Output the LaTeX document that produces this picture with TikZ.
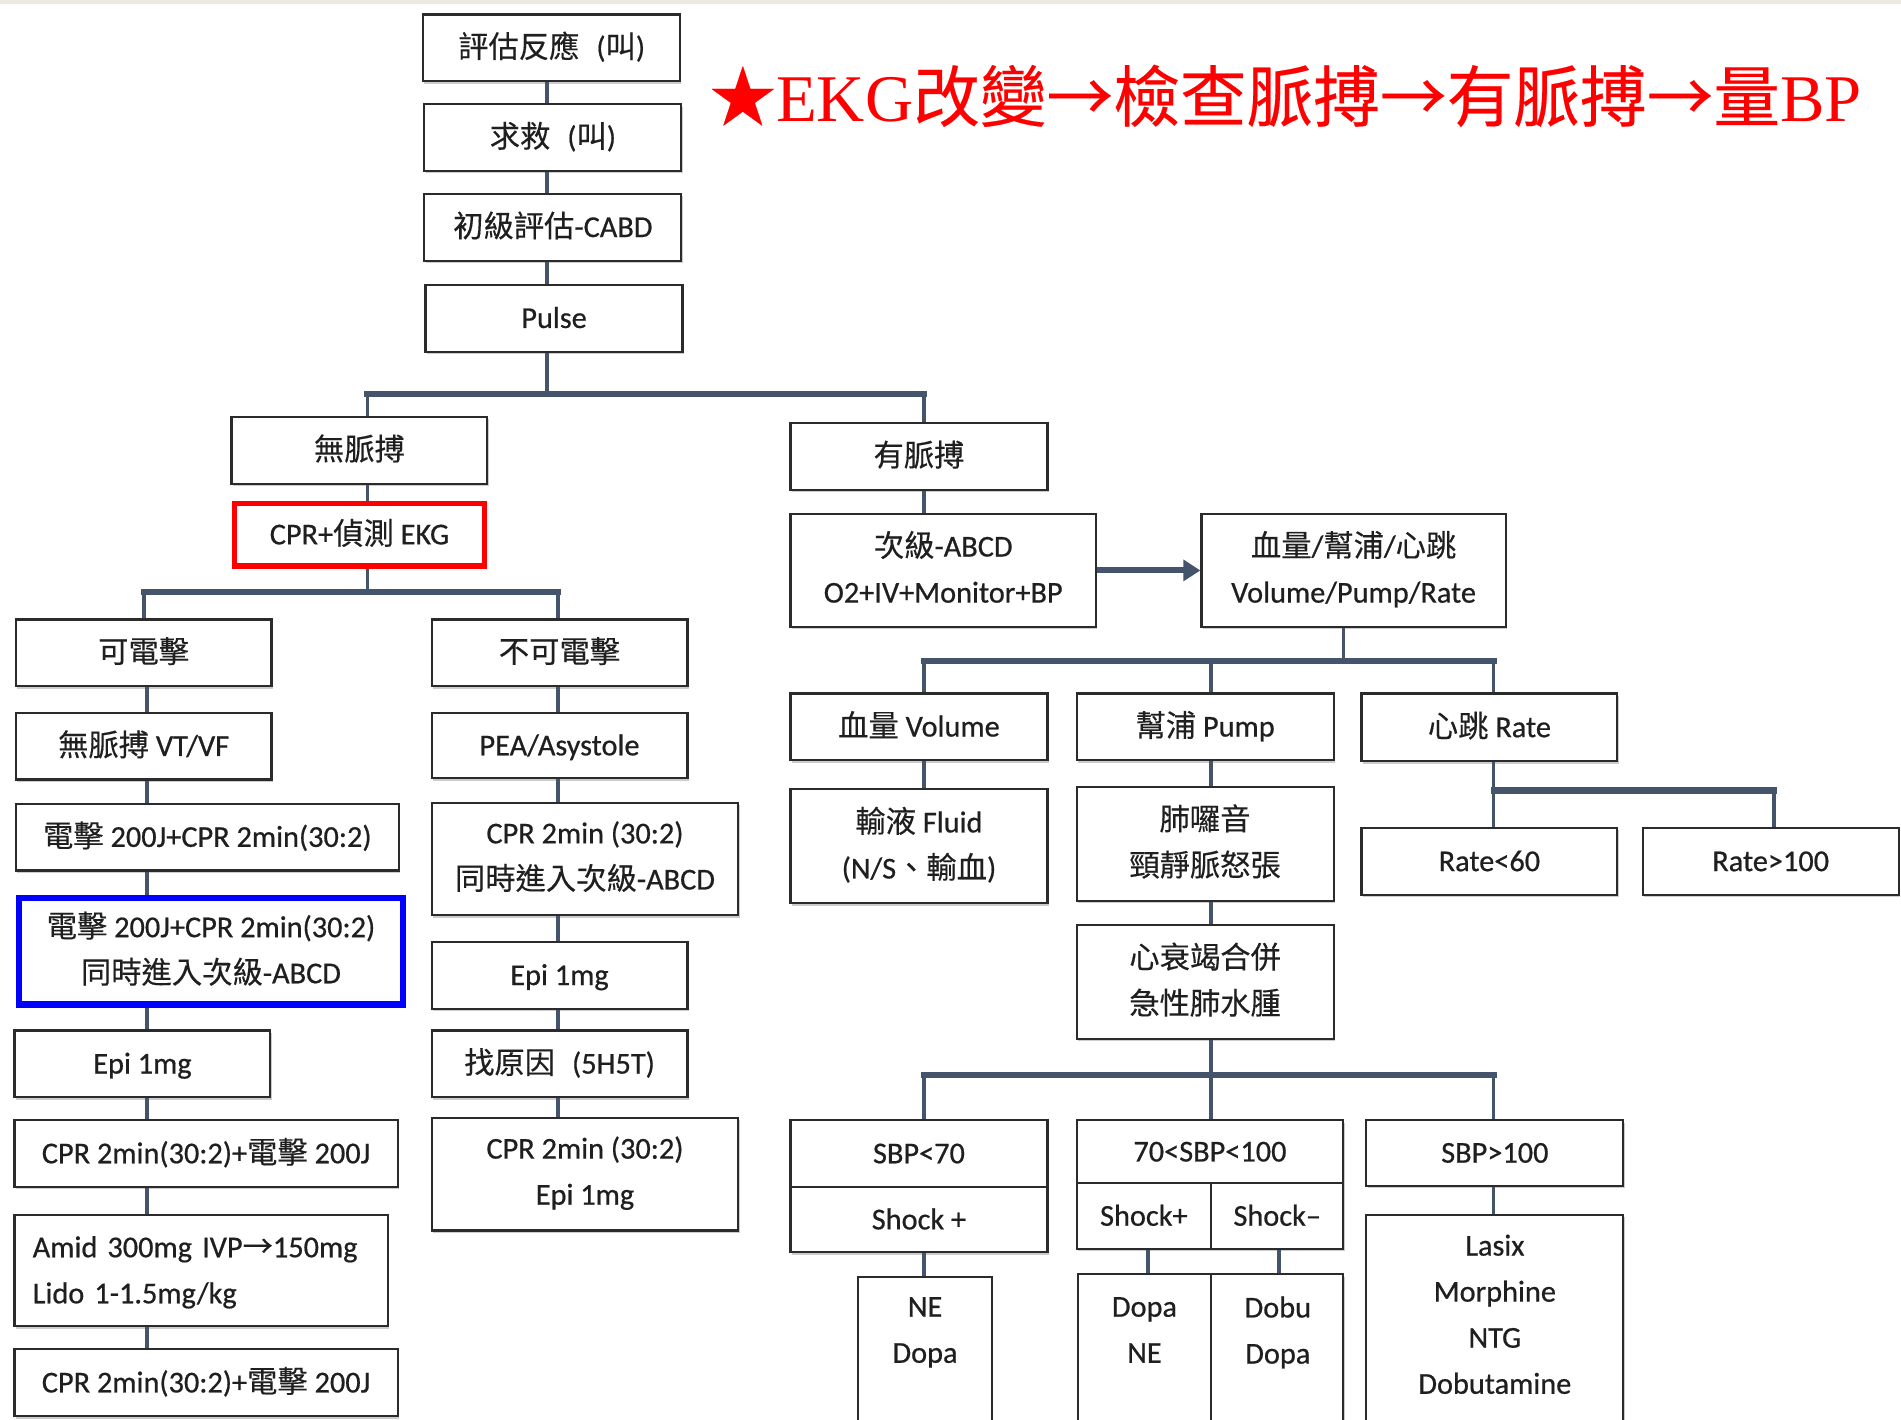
\documentclass[tikz,border=0pt]{standalone}
\usepackage{fontspec}
\usetikzlibrary{arrows.meta,shadows}
\newfontfamily\latinsans[FakeBold=0.6]{Carlito}
\newfontfamily\cjksans[FakeBold=0.3]{Noto Sans CJK TC}
\newfontfamily\latinserif{Liberation Serif}
\def\cjkfnt{\cjksans}
\def\latfnt{\latinsans}
\XeTeXinterchartokenstate=1
\newXeTeXintercharclass\cjkcls
\newcount\mycnt
\mycnt="4E00
\loop
  \XeTeXcharclass\mycnt=\cjkcls
  \advance\mycnt by 1
\ifnum\mycnt<"A000 \repeat
\mycnt="3000
\loop
  \XeTeXcharclass\mycnt=\cjkcls
  \advance\mycnt by 1
\ifnum\mycnt<"3040 \repeat
\XeTeXcharclass"2605=\cjkcls
\XeTeXcharclass"2192=\cjkcls
\XeTeXinterchartoks 0 \cjkcls={\cjkfnt}
\XeTeXinterchartoks 4095 \cjkcls={\cjkfnt}
\XeTeXinterchartoks \cjkcls 0={\latfnt}
\XeTeXinterchartoks \cjkcls 4095={\latfnt}
\newcommand\bodyfont{\def\latfnt{\latinsans}\latinsans\fontsize{25}{38}\selectfont}
\newcommand\titlefont{\def\latfnt{\latinserif}\latinserif\fontsize{55}{60}\selectfont}
\newcommand\st{\rule[-6pt]{0pt}{28pt}}
\newcommand\gp{\hspace{14pt}}
\definecolor{connc}{HTML}{44546A}
\definecolor{boxc}{HTML}{2B2B2B}
\definecolor{txtc}{HTML}{1F1F1F}
\definecolor{topband}{HTML}{ECE9E0}
\definecolor{kred}{HTML}{FF0000}
\definecolor{kblue}{HTML}{0000FF}
\tikzset{
  wh/.style 2 args={minimum width=#1pt, minimum height=#2pt},
  bx/.style={draw=boxc, line width=1.8pt, fill=white, text=txtc, font=\bodyfont,
    align=center, inner sep=0pt,
    execute at begin node=\st, execute at end node=\st,
    drop shadow={shadow xshift=1pt, shadow yshift=-2pt, fill=black, opacity=0.2}},
  lbl/.style={text=txtc, font=\bodyfont, align=center, inner sep=0pt,
    execute at begin node=\st, execute at end node=\st},
  redbx/.style={bx, draw=kred, line width=4.5pt},
  bluebx/.style={bx, draw=kblue, line width=5pt},
  vl/.style={draw=connc, line width=3pt},
  hbar/.style={draw=connc, line width=5pt, line cap=rect},
  arr/.style={draw=connc, line width=5pt, -{Triangle[length=14pt,width=17pt]}},
}
\begin{document}
\begin{tikzpicture}[x=1pt,y=-1pt]
\fill[white] (0,0) rectangle (1568,1171);
\useasboundingbox (0,0) rectangle (1568,1171);
\fill[topband] (0,0) rectangle (1568,3);

% title
\node[anchor=base west, text=kred, inner sep=0pt, font=\titlefont] (title) at (585,100) {★EKG改變→檢查脈搏→有脈搏→量BP};

% top chain
\node[bx, wh={212}{55}] (n1) at (455,39.5) {評估反應\gp(叫)};
\node[bx, wh={212}{55}] (n2) at (456,113.5) {求救\gp(叫)};
\node[bx, wh={212}{55}] (n3) at (456,187.5) {初級評估-CABD};
\node[bx, wh={212}{55}] (n4) at (457,262.5) {Pulse};
\node[bx, wh={211}{55}] (nop) at (296.5,371.5) {無脈搏};
\node[redbx, wh={206.5}{51.5}] (cpr) at (296.5,441) {CPR+偵測 EKG};
\node[bx, wh={212}{55}] (pul) at (758,376.5) {有脈搏};

% shockable column
\node[bx, wh={211}{55}] (sh) at (118.5,538.5) {可電擊};
\node[bx, wh={211}{55}] (vt) at (118.5,615.5) {無脈搏 VT/VF};
\node[bx, wh={316}{55}] (s1) at (171,690.5) {電擊 200J+CPR 2min(30:2)};
\node[bluebx, wh={317}{88}] (bl) at (174,784.5) {電擊 200J+CPR 2min(30:2)\\同時進入次級-ABCD};
\node[bx, wh={211}{55}] (epL) at (117.5,877.5) {Epi 1mg};
\node[bx, wh={316}{55}] (s2) at (170,951.5) {CPR 2min(30:2)+電擊 200J};
\node[bx, wh={308}{92}, align=left, text width=278pt, inner xsep=15pt] (am) at (166,1048) {Amid 300mg IVP→150mg\\Lido 1-1.5mg/kg};
\node[bx, wh={316}{55}] (s3) at (170,1140.5) {CPR 2min(30:2)+電擊 200J};

% non-shockable column
\node[bx, wh={211}{55}] (nsh) at (461.5,538.5) {不可電擊};
\node[bx, wh={211}{54}] (pea) at (461.5,615) {PEA/Asystole};
\node[bx, wh={253}{93}] (c2) at (482.5,708.5) {CPR 2min (30:2)\\同時進入次級-ABCD};
\node[bx, wh={211}{55}] (epR) at (461.5,804.5) {Epi 1mg};
\node[bx, wh={211}{55}] (fc) at (461.5,877.5) {找原因\gp(5H5T)};
\node[bx, wh={253}{93}] (c3) at (482.5,968.5) {CPR 2min (30:2)\\Epi 1mg};

% pulse side
\node[bx, wh={252}{93}] (ab) at (778,470.5) {次級-ABCD\\O2+IV+Monitor+BP};
\node[bx, wh={251}{93}] (vpr) at (1116.5,470.5) {血量/幫浦/心跳\\Volume/Pump/Rate};
\node[bx, wh={212}{55}] (vo) at (758,599.5) {血量 Volume};
\node[bx, wh={212}{55}] (pu) at (994,599.5) {幫浦 Pump};
\node[bx, wh={211}{56}] (ra) at (1228.5,600) {心跳 Rate};
\node[bx, wh={212}{94}] (fl) at (758,698) {輸液 Fluid\\(N/S、輸血)};
\node[bx, wh={212}{94}] (lu) at (994,696) {肺囉音\\頸靜脈怒張};
\node[bx, wh={211}{55}] (r60) at (1228.5,710.5) {Rate<60};
\node[bx, wh={211}{55}] (r100) at (1460.5,710.5) {Rate>100};
\node[bx, wh={212}{94}] (hf) at (994,810) {心衰竭合併\\急性肺水腫};
\node[bx, wh={212}{55}] (sa) at (758,951.5) {SBP<70};
\node[bx, wh={212}{54}] (sb) at (758,1006) {Shock +};
\node[bx, wh={220}{52}] (ma) at (998,950) {70<SBP<100};
\node[bx, wh={111}{54}] (mb1) at (943.5,1003) {Shock+};
\node[bx, wh={109}{54}] (mb2) at (1053.5,1003) {Shock–};
\node[bx, wh={212}{54}] (sc) at (1233,951) {SBP>100};
\node[bx, wh={110}{140}] (neb) at (763,1123) {};
\node[lbl] (net) at (763,1100) {NE\\Dopa};
\node[bx, wh={110}{140}] (db1) at (944,1121) {};
\node[bx, wh={109}{140}] (db2) at (1053.5,1121) {};
\node[lbl] (d1t) at (944,1100) {Dopa\\NE};
\node[lbl] (d2t) at (1054,1100) {Dobu\\Dopa};
\node[bx, wh={212}{190}] (lx) at (1233,1097) {};
\node[lbl] (lxt) at (1233,1087) {Lasix\\Morphine\\NTG\\Dobutamine};

% connector coordinates
\coordinate (b1m) at (451,325);
\coordinate (b1l) at (303,325);
\coordinate (b1r) at (762,325);
\coordinate (b2m) at (303,488);
\coordinate (b2l) at (119,488);
\coordinate (b2r) at (460,488);
\coordinate (xl) at (121,0);
\coordinate (b3m) at (1108,545);
\coordinate (b3l) at (762,545);
\coordinate (b3c) at (999,545);
\coordinate (b3r) at (1232,545);
\coordinate (b4l) at (1232,652);
\coordinate (b4r) at (1463,652);
\coordinate (b5l) at (762,887);
\coordinate (b5c) at (999,887);
\coordinate (b5r) at (1232,887);
\coordinate (xp) at (947,0);
\coordinate (xm) at (1055,0);

% top chain
\draw[vl] (n1.south -| b1m) -- (n2.north -| b1m);
\draw[vl] (n2.south -| b1m) -- (n3.north -| b1m);
\draw[vl] (n3.south -| b1m) -- (n4.north -| b1m);
\draw[vl] (n4.south -| b1m) -- (b1m);
\draw[vl] (b1l) -- (b1l |- nop.north);
\draw[vl] (b1r) -- (b1r |- pul.north);
\draw[hbar] (b1l) -- (b1r);
\draw[vl] (nop.south -| b1l) -- (cpr.north -| b1l);
\draw[vl] (cpr.south -| b2m) -- (b2m);
\draw[vl] (b2l) -- (b2l |- sh.north);
\draw[vl] (b2r) -- (b2r |- nsh.north);
\draw[hbar] (b2l) -- (b2r);

% shockable chain
\draw[vl] (sh.south -| xl) -- (vt.north -| xl);
\draw[vl] (vt.south -| xl) -- (s1.north -| xl);
\draw[vl] (s1.south -| xl) -- (bl.north -| xl);
\draw[vl] (bl.south -| xl) -- (epL.north -| xl);
\draw[vl] (epL.south -| xl) -- (s2.north -| xl);
\draw[vl] (s2.south -| xl) -- (am.north -| xl);
\draw[vl] (am.south -| xl) -- (s3.north -| xl);

% non-shockable chain
\draw[vl] (nsh.south -| b2r) -- (pea.north -| b2r);
\draw[vl] (pea.south -| b2r) -- (c2.north -| b2r);
\draw[vl] (c2.south -| b2r) -- (epR.north -| b2r);
\draw[vl] (epR.south -| b2r) -- (fc.north -| b2r);
\draw[vl] (fc.south -| b2r) -- (c3.north -| b2r);

% pulse side
\draw[vl] (pul.south -| b1r) -- (ab.north -| b1r);
\draw[arr] (ab.east) -- (vpr.west);
\draw[vl] (vpr.south -| b3m) -- (b3m);
\draw[vl] (b3l) -- (b3l |- vo.north);
\draw[vl] (b3c) -- (b3c |- pu.north);
\draw[vl] (b3r) -- (b3r |- ra.north);
\draw[hbar] (b3l) -- (b3r);
\draw[vl] (vo.south -| b3l) -- (fl.north -| b3l);
\draw[vl] (pu.south -| b3c) -- (lu.north -| b3c);
\draw[vl] (lu.south -| b3c) -- (hf.north -| b3c);
\draw[vl] (ra.south -| b4l) -- (b4l);
\draw[vl] (b4l) -- (b4l |- r60.north);
\draw[vl] (b4r) -- (b4r |- r100.north);
\draw[hbar] (b4l) -- (b4r);
\draw[vl] (hf.south -| b5c) -- (b5c);
\draw[vl] (b5l) -- (b5l |- sa.north);
\draw[vl] (b5c) -- (b5c |- ma.north);
\draw[vl] (b5r) -- (b5r |- sc.north);
\draw[hbar] (b5l) -- (b5r);
\draw[vl] (sb.south -| b5l) -- (neb.north -| b5l);
\draw[vl] (mb1.south -| xp) -- (db1.north -| xp);
\draw[vl] (mb2.south -| xm) -- (db2.north -| xm);
\draw[vl] (sc.south -| b5r) -- (lx.north -| b5r);
\end{tikzpicture}
\end{document}
